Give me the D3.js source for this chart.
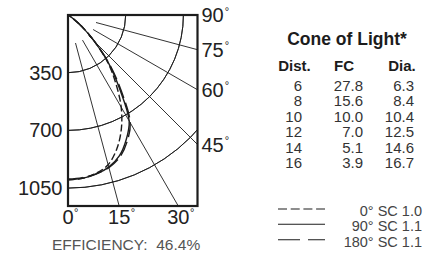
<!DOCTYPE html>
<html><head><meta charset="utf-8">
<script src="https://cdn.jsdelivr.net/npm/d3@7"></script>
<style>
body{margin:0;background:#fff}
svg{display:block}
text{font-family:"Liberation Sans",Arial,Helvetica,sans-serif}
</style>
</head><body>
<svg id="c" width="437" height="253"></svg>
<script>
// ---- data ----
const angles = [0,5,10,15,20,25,30,35,40,45,50,55,60,65,70,75,80,85,90];
const sc0   = [1000,995,975,940,865,765,645,505,375,230,115,35,5,0,0,0,0,0,0];
const sc90  = [1000,995,980,955,910,835,742,545,385,228,112,32,5,0,0,0,0,0,0];
const sc180 = [995,990,978,958,918,848,755,565,395,232,115,33,5,0,0,0,0,0,0];
const radialTicks = [350,700,1050];
const bottomTicks = [0,15,30];
const rightTicks = [45,60,75,90];
const spokes = [15,30,45,60,75];
const coneHeaders = ["Dist.","FC","Dia."];
const coneDist = ["6","8","10","12","14","16"];
const coneFC = ["27.8","15.6","10.0","7.0","5.1","3.9"];
const coneDia = ["6.3","8.4","10.4","12.5","14.6","16.7"];
const coneTitle = "Cone of Light*";
const legendLabels = ["0° SC 1.0","90° SC 1.1","180° SC 1.1"];
const efficiencyLabel = "EFFICIENCY:  46.4%";

// ---- layout ----
const svg = d3.select("#c");
const box = {x0:68, y0:15, x1:197.5, y1:206};
const r = d3.scaleLinear().domain([0,350]).range([0,57.7]);
const rad = d => d*Math.PI/180;
const px = (a,v) => box.x0 + r(v)*Math.sin(rad(a));
const py = (a,v) => box.y0 + r(v)*Math.cos(rad(a));
const ink = "#1c1c1c";

svg.append("defs").append("clipPath").attr("id","clip")
  .append("rect").attr("x",box.x0).attr("y",box.y0)
  .attr("width",box.x1-box.x0).attr("height",box.y1-box.y0);

const grid = svg.append("g").attr("clip-path","url(#clip)");
// arcs
const arc = d3.arc().startAngle(Math.PI/2).endAngle(Math.PI);
grid.selectAll("path.arc").data(radialTicks).join("path")
  .attr("class","arc")
  .attr("transform",`translate(${box.x0},${box.y0})`)
  .attr("d", d => arc({innerRadius:r(d), outerRadius:r(d)}))
  .attr("fill","none").attr("stroke",ink).attr("stroke-width",0.9);
// spokes
const spokeStart = r.invert(29);
grid.selectAll("line.spoke").data(spokes).join("line")
  .attr("x1",d=>px(d,spokeStart)).attr("y1",d=>py(d,spokeStart))
  .attr("x2",d=>px(d,2000)).attr("y2",d=>py(d,2000))
  .attr("stroke",ink).attr("stroke-width",0.9);

// curves
const line = d3.line().x(d=>px(d[0],d[1])).y(d=>py(d[0],d[1])).curve(d3.curveCatmullRom.alpha(0.5));
const series = [
  {vals:sc90, dash:null},
  {vals:sc180, dash:"15,5"},
  {vals:sc0, dash:"7,3"}
];
svg.append("g").selectAll("path").data(series).join("path")
  .attr("d", s => line(angles.map((a,i)=>[a,s.vals[i]])))
  .attr("fill","none").attr("stroke",ink).attr("stroke-width",1.4)
  .attr("stroke-dasharray", s=>s.dash);

// box
svg.append("rect").attr("x",box.x0).attr("y",box.y0)
  .attr("width",box.x1-box.x0).attr("height",box.y1-box.y0)
  .attr("fill","none").attr("stroke",ink).attr("stroke-width",2.2);

// left labels
svg.selectAll("text.rl").data(radialTicks).join("text")
  .attr("class","rl")
  .attr("x",box.x0-5.5).attr("y",d=>box.y0+r(d)+7)
  .attr("text-anchor","end").attr("font-size",20).attr("fill","#222")
  .text(d=>d);

// bottom labels
const bx = a => box.x0 + (box.y1-box.y0)*Math.tan(rad(a));
bottomTicks.forEach(a=>{
  const t = svg.append("text").attr("x",bx(a)).attr("y",223.5)
    .attr("text-anchor","middle").attr("font-size",20).attr("fill","#222").text(a);
  const w = t.node().getComputedTextLength();
  svg.append("text").attr("x",bx(a)+w/2+0.5).attr("y",216)
    .attr("font-size",11).attr("fill","#222").text("°");
});
// right labels
const ry = a => a===90 ? box.y0 : box.y0 + (box.x1-box.x0)/Math.tan(rad(a));
rightTicks.forEach(a=>{
  const t = svg.append("text").attr("x",box.x1+4).attr("y",ry(a)+7)
    .attr("font-size",20).attr("fill","#222").text(a);
  const w = t.node().getComputedTextLength();
  svg.append("text").attr("x",box.x1+4+w+1).attr("y",ry(a)-0.5)
    .attr("font-size",11).attr("fill","#222").text("°");
});

// efficiency
svg.append("text").attr("x",52).attr("y",250).attr("font-size",15.5)
  .attr("fill","#555").style("white-space","pre").text(efficiencyLabel);

// cone of light table
svg.append("text").attr("x",347).attr("y",45).attr("text-anchor","middle")
  .attr("font-size",17.5).attr("font-weight","bold").attr("fill","#1c1c1c").text(coneTitle);
const hdrX = [294.5,344,402];
svg.selectAll("text.hdr").data(coneHeaders).join("text").attr("class","hdr")
  .attr("x",(d,i)=>hdrX[i]).attr("y",71).attr("text-anchor","middle")
  .attr("font-size",15).attr("font-weight","bold").attr("fill","#1c1c1c").text(d=>d);
const colX = [302,363,414];
[coneDist,coneFC,coneDia].forEach((col,ci)=>{
  svg.selectAll("text.c"+ci).data(col).join("text").attr("class","c"+ci)
    .attr("x",colX[ci]).attr("y",(d,i)=>90.7+15.5*i).attr("text-anchor","end")
    .attr("font-size",15).attr("fill","#333").text(d=>d);
});

// legend
const legDash = ["9,3.7",null,"22,8"];
const legLineY = [209,224.3,239.8];
const legTextY = [215.5,231,246.5];
legendLabels.forEach((lab,i)=>{
  svg.append("line").attr("x1",278).attr("x2",325).attr("y1",legLineY[i]).attr("y2",legLineY[i])
    .attr("stroke",ink).attr("stroke-width",1.1).attr("stroke-dasharray",legDash[i]);
  svg.append("text").attr("x",422).attr("y",legTextY[i]).attr("text-anchor","end")
    .attr("font-size",14.5).attr("fill","#444").style("white-space","pre").text(lab);
});
</script>
</body></html>
